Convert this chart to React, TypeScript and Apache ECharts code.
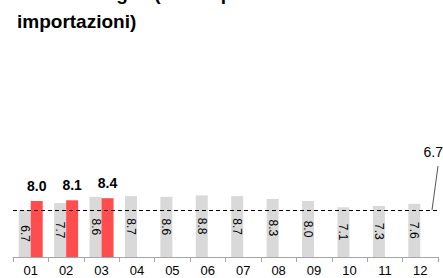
import React, { useEffect, useRef } from "react";
import * as echarts from "echarts";

const months = ["01", "02", "03", "04", "05", "06", "07", "08", "09", "10", "11", "12"];
const previousYear = [6.7, 7.7, 8.6, 8.7, 8.6, 8.8, 8.7, 8.3, 8.0, 7.1, 7.3, 7.6];
const currentYear: (number | null)[] = [8.0, 8.1, 8.4, null, null, null, null, null, null, null, null, null];
const referenceValue = 6.7;
const titleText = "Prezzo del gas (media ponderata\nimportazioni)";

export default function App() {
  const ref = useRef<HTMLDivElement>(null);
  useEffect(() => {
    if (!ref.current) return;
    const chart = echarts.init(ref.current, null, { renderer: "svg" });
    const font = "Arial, 'Liberation Sans', Helvetica, sans-serif";
    chart.setOption({
      animation: false,
      textStyle: { fontFamily: font },
      title: {
        text: titleText,
        left: 17,
        top: -21,
        padding: 0,
        textStyle: { fontSize: 19, fontWeight: "bold", color: "#000", lineHeight: 28, fontFamily: font },
      },
      grid: { left: 13, right: 5, top: 187, bottom: 21, containLabel: false },
      xAxis: {
        type: "category",
        data: months,
        boundaryGap: true,
        axisLine: { show: true, lineStyle: { color: "#a6a6a6", width: 1 } },
        axisTick: { show: true, length: 5, lineStyle: { color: "#a6a6a6" } },
        axisLabel: { color: "#000", fontSize: 13, margin: 7, fontFamily: font },
      },
      yAxis: { type: "value", min: 0, max: 10, show: false, splitLine: { show: false } },
      series: [
        {
          type: "bar",
          data: previousYear,
          barWidth: 12,
          barGap: "0%",
          itemStyle: { color: "#d9d9d9" },
          label: {
            show: true,
            position: "inside",
            rotate: -90,
            fontSize: 12,
            color: "#000",
            fontFamily: font,
            formatter: (p: any) => Number(p.value).toFixed(1),
          },
          markLine: {
            silent: true,
            symbol: "none",
            label: { show: false },
            lineStyle: { color: "#000", type: [4, 3], width: 1 },
            data: [{ yAxis: referenceValue }],
          },
        },
        {
          type: "bar",
          data: currentYear,
          barWidth: 12,
          barGap: "0%",
          itemStyle: { color: "#ff4d4d" },
          label: {
            show: true,
            position: "top",
            distance: 8,
            fontSize: 14,
            fontWeight: "bold",
            color: "#000",
            fontFamily: font,
            formatter: (p: any) => Number(p.value).toFixed(1),
          },
        },
      ],
    });
    const yRef = chart.convertToPixel({ yAxisIndex: 0 }, referenceValue) as number;
    const x12 = chart.convertToPixel({ xAxisIndex: 0 }, months[months.length - 1]) as number;
    const x11 = chart.convertToPixel({ xAxisIndex: 0 }, months[months.length - 2]) as number;
    const xRight = x12 + (x12 - x11) / 2;
    chart.setOption({
      graphic: [
        {
          type: "line",
          shape: { x1: xRight - 6, y1: yRef, x2: xRight, y2: yRef - 44 },
          style: { stroke: "#555", lineWidth: 1 },
          silent: true,
        },
        {
          type: "text",
          x: xRight + 5,
          y: yRef - 58,
          style: {
            text: referenceValue.toFixed(1),
            fontSize: 14,
            fill: "#000",
            align: "right",
            verticalAlign: "middle",
            fontFamily: font,
          },
          silent: true,
        },
      ],
    });
    return () => chart.dispose();
  }, []);
  return <div ref={ref} style={{ width: 443, height: 278, position: "absolute", left: 0, top: 0 }} />;
}
